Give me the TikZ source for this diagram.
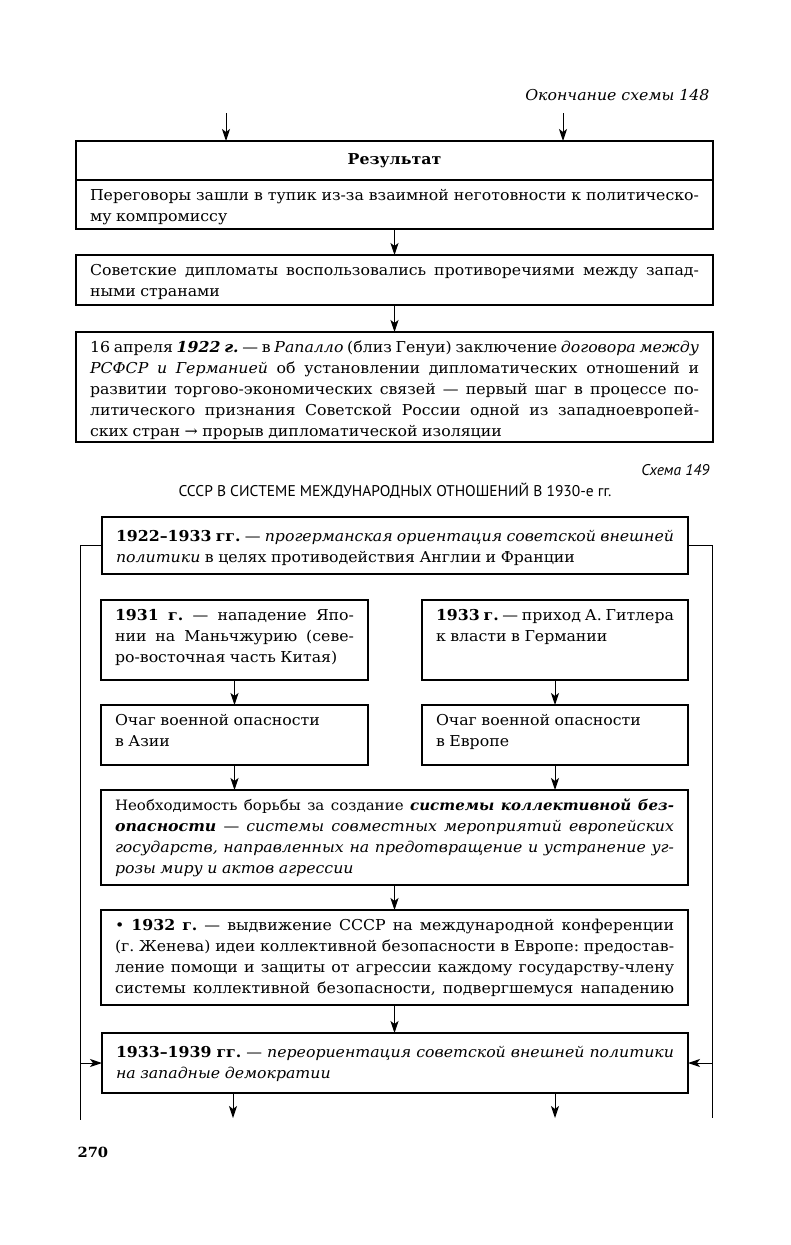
\documentclass[tikz,border=0pt]{standalone}
\usepackage{fontspec}
\setmainfont{DejaVu Serif}[FakeStretch=1.05]
\newfontfamily\sansf{PT Sans}
\usetikzlibrary{arrows.meta}
\newcommand{\mybox}[3]{\parbox[c][#2][t]{#1}{\fontsize{15}{21}\selectfont\frenchspacing\spaceskip=0.3em plus 0.6em minus 0.15em\relax #3}}
\newcommand{\jline}[1]{\hbox to \hsize{\strut #1}}
\newcommand{\lline}[1]{\hbox to \hsize{\strut #1\hfil}}
\tikzset{
  box/.style={draw, line width=1.1pt, anchor=north west, inner xsep=14pt, inner ysep=6pt, outer sep=0pt},
  arr/.style={-{Stealth[length=12pt,width=8pt,inset=3pt]}, line width=1pt},
  plain/.style={line width=1pt}
}
\begin{document}
\begin{tikzpicture}[x=1pt,y=-1pt,font=\fontsize{15}{21}\selectfont]
\useasboundingbox (0,0) rectangle (791,1245);

\node[anchor=east, font=\fontsize{15}{18}\selectfont\itshape] (cont) at (713,95) {Окончание схемы 148};

% Scheme 148 end
\node[box, minimum width=637pt, minimum height=39pt, inner sep=0pt] (RH) at (76,141) {\textbf{Результат}};
\node[box] (RB) at (76,180) {\mybox{609pt}{37pt}{%
\jline{Переговоры зашли в тупик из-за взаимной неготовности к политическо-}
\lline{му компромиссу}}};
\node[box] (S2) at (76,255) {\mybox{609pt}{38pt}{%
\jline{Советские дипломаты воспользовались противоречиями между запад-}
\lline{ными странами}}};
\node[box] (S3) at (76,332) {\mybox{609pt}{98pt}{%
\jline{16 апреля \textbf{\textit{1922 г.}} — в \textit{Рапалло} (близ Генуи) заключение \textit{договора между}}
\jline{\textit{РСФСР и Германией} об установлении дипломатических отношений и}
\jline{развитии торгово-экономических связей — первый шаг в процессе по-}
\jline{литического признания Советской России одной из западноевропей-}
\lline{ских стран → прорыв дипломатической изоляции}}};

\coordinate (t1) at (226,113);
\coordinate (t2) at (563,113);
\draw[arr] (t1) -- (t1 |- RH.north);
\draw[arr] (t2) -- (t2 |- RH.north);
\draw[arr] (RB.south) -- (S2.north);
\draw[arr] (S2.south) -- (S3.north);

% Scheme 149
\node[anchor=east, font=\fontsize{15.5}{18}\selectfont\sansf\itshape] (sch) at (713,470) {Схема 149};
\node[font=\fontsize{15.5}{18}\selectfont\sansf] (title) at (395,491) {СССР В СИСТЕМЕ МЕЖДУНАРОДНЫХ ОТНОШЕНИЙ В 1930-е гг.};

\node[box, inner ysep=10pt] (A) at (102,517) {\mybox{558pt}{37pt}{%
\jline{\textbf{1922–1933 гг.} — \textit{прогерманская ориентация советской внешней}}
\lline{\textit{политики} в целях противодействия Англии и Франции}}};
\node[box] (B) at (101,600) {\mybox{239pt}{68pt}{%
\jline{\textbf{1931 г.} — нападение Япо-}
\jline{нии на Маньчжурию (севе-}
\lline{ро-восточная часть Китая)}}};
\node[box] (C) at (422,600) {\mybox{238pt}{68pt}{%
\jline{\textbf{1933 г.} — приход А. Гитлера}
\lline{к власти в Германии}}};
\node[box] (D) at (101,705) {\mybox{239pt}{48pt}{%
\lline{Очаг военной опасности}
\lline{в Азии}}};
\node[box] (E) at (422,705) {\mybox{238pt}{48pt}{%
\lline{Очаг военной опасности}
\lline{в Европе}}};
\node[box] (F) at (101,790) {\mybox{559pt}{83pt}{%
\jline{\fontsize{14.3}{21}\selectfont\spaceskip=0.3em plus 0.6em minus 0.1em\relax Необходимость борьбы за создание \textbf{\textit{системы коллективной без-}}}
\jline{\textbf{\textit{опасности}} — \textit{системы совместных мероприятий европейских}}
\jline{\textit{государств, направленных на предотвращение и устранение уг-}}
\lline{\textit{розы миру и актов агрессии}}}};
\node[box] (G) at (101,910) {\mybox{559pt}{83pt}{%
\jline{• \textbf{1932 г.} — выдвижение СССР на международной конференции}
\jline{(г. Женева) идеи коллективной безопасности в Европе: предостав-}
\jline{ление помощи и защиты от агрессии каждому государству-члену}
\jline{системы коллективной безопасности, подвергшемуся нападению}}};
\node[box, inner ysep=10pt] (H) at (102,1033) {\mybox{558pt}{40pt}{%
\jline{\textbf{1933–1939 гг.} — \textit{переориентация советской внешней политики}}
\lline{\textit{на западные демократии}}}};

\draw[arr] (B.south) -- (B.south |- D.north);
\draw[arr] (C.south) -- (C.south |- E.north);
\draw[arr] (D.south) -- (D.south |- F.north);
\draw[arr] (E.south) -- (E.south |- F.north);
\draw[arr] (F.south) -- (F.south |- G.north);
\draw[arr] (G.south) -- (G.south |- H.north);

\coordinate (Lx) at (80,1120);
\coordinate (Rx) at (712,1118);
\draw[plain] (A.west) -- (A.west -| Lx) -- (Lx);
\draw[plain] (A.east) -- (A.east -| Rx) -- (Rx);
\draw[arr] (H.west -| Lx) -- (H.west);
\draw[arr] (H.east -| Rx) -- (H.east);

\coordinate (b1) at (233,1118);
\coordinate (b2) at (555,1118);
\draw[arr] (H.south -| b1) -- (b1);
\draw[arr] (H.south -| b2) -- (b2);

\node[anchor=west, font=\fontsize{14}{17}\selectfont\bfseries] (pg) at (74,1152) {270};
\end{tikzpicture}
\end{document}
